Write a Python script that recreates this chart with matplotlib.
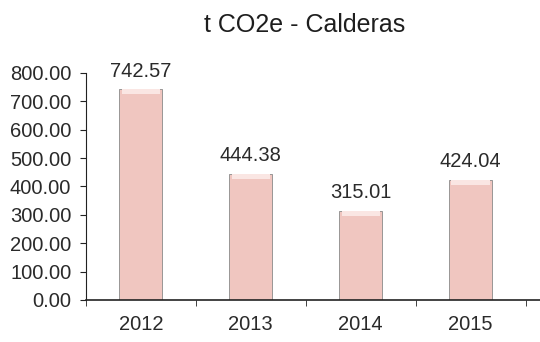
import numpy as np
import matplotlib.pyplot as plt

plt.rcParams['font.family'] = ['Liberation Sans', 'DejaVu Sans']

# Emisiones por año (t CO2e)
years = ['2012', '2013', '2014', '2015']
values = [742.57, 444.38, 315.01, 424.04]

fig = plt.figure(figsize=(5.4, 3.42), dpi=100)
ax = fig.add_axes([0.159, 0.123, 0.841, 0.664])

x = np.arange(len(years))
ax.bar(x, values, width=0.39, color='#f0c6c0', edgecolor='#8a8a8a', linewidth=0.6, zorder=2)
# brillo en la parte superior de cada barra
hl = 18
ax.bar(x, [hl] * len(values), bottom=[v - hl for v in values], width=0.35,
       color='#fae6e3', linewidth=0, zorder=3)

for xi, v in zip(x, values):
    ax.text(xi, v + 44, f'{v:.2f}', ha='center', va='baseline', fontsize=14.5, color='#2a2a2a')

ax.set_xlim(-0.5, len(years) - 0.37)
ax.set_ylim(0, 800)
ax.set_yticks(np.arange(0, 801, 100))
ax.set_yticklabels([f'{t:.2f}' for t in np.arange(0, 801, 100)])
ax.set_xticks(x)
ax.set_xticklabels(years)
ax.set_xticks(np.arange(-0.5, len(years), 1), minor=True)
ax.tick_params(axis='x', which='major', length=0, pad=11, labelsize=14.5, labelcolor='#2a2a2a')
ax.tick_params(axis='x', which='minor', length=4, direction='out', color='#222222')
ax.tick_params(axis='y', length=4, direction='out', labelsize=14.5, labelcolor='#2a2a2a',
               color='#222222', pad=6.5)

for s in ['top', 'right']:
    ax.spines[s].set_visible(False)
ax.spines['left'].set_color('#222222')
ax.spines['bottom'].set_color('#222222')
ax.spines['bottom'].set_linewidth(1.2)

fig.text(0.565, 0.906, 't CO2e - Calderas', ha='center', va='baseline', fontsize=18,
         color='#1e1e1e')

fig.savefig('out.png', dpi=100)
